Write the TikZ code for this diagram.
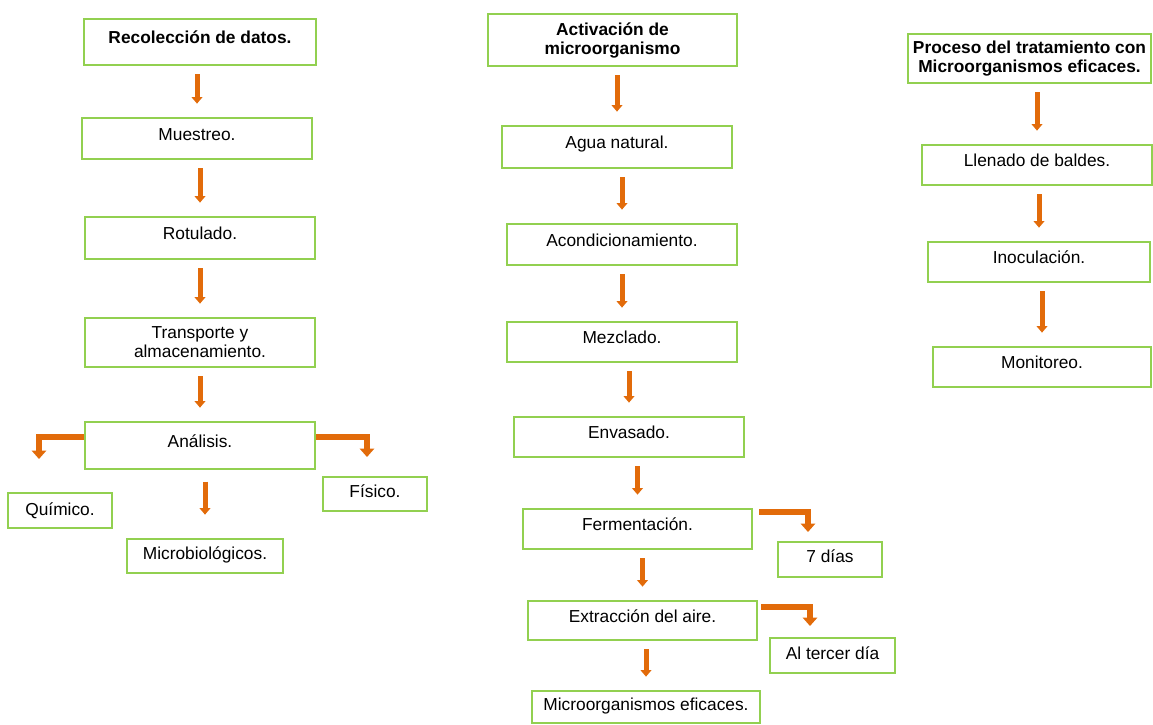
\documentclass[tikz,border=0pt]{standalone}
\usepackage{fontspec}
\setmainfont{Liberation Sans}
\usetikzlibrary{arrows.meta}
\definecolor{verde}{RGB}{146,208,80}
\definecolor{naranja}{RGB}{226,107,10}
\tikzset{
   caja/.style={draw=verde, line width=1.2pt, align=center, inner sep=2pt,
      font=\fontsize{10.4}{11.4}\selectfont},
   titulo/.style={font=\fontsize{10.4}{11.4}\selectfont\bfseries},
   sube/.style={text height=7.7pt, text depth=#1},
   wh/.style 2 args={minimum width=#1*0.6pt, minimum height=#2*0.6pt},
   flecha/.style={draw=naranja, line width=3pt, -{Triangle[width=6.5pt,length=4pt]},
      shorten <=5pt, shorten >=8pt},
   codo/.style={draw=naranja, line width=3.6pt, -{Triangle[width=8.5pt,length=5pt]}}
}
\begin{document}
\begin{tikzpicture}[x=0.6pt, y=-0.6pt]
      \useasboundingbox (0,0) rectangle (1153,724);
      % primera columna
      \node[caja, titulo, sube=5.5pt, wh={232}{46}] (rec) at (200,42) {Recolección de datos.};
      \node[caja, sube=5.5pt, wh={230}{41}] (mue) at (197,138.5) {Muestreo.};
      \node[caja, sube=5.5pt, wh={230}{42}] (rot) at (200,238) {Rotulado.};
      \node[caja, wh={230}{49}] (tra) at (200,342.5) {Transporte y\\almacenamiento.};
      \node[caja, sube=5.5pt, wh={230}{47}] (ana) at (200,445.5) {Análisis.};
      \node[caja, sube=2pt, wh={104}{35}] (qui) at (60,510.5) {Químico.};
      \node[caja, sube=3.5pt, wh={156}{34}] (mic) at (205,556) {Microbiológicos.};
      \node[caja, sube=3.5pt, wh={104}{34}] (fis) at (375,494) {Físico.};
      % segunda columna
      \node[caja, titulo, wh={249}{52}] (act) at (612.5,40) {Activación de\\microorganismo};
      \node[caja, sube=5.5pt, wh={230}{42}] (agu) at (617,147) {Agua natural.};
      \node[caja, sube=5.5pt, wh={230}{41}] (aco) at (622,244.5) {Acondicionamiento.};
      \node[caja, sube=5.5pt, wh={230}{40}] (mez) at (622,342) {Mezclado.};
      \node[caja, sube=5.5pt, wh={230}{40}] (env) at (629,437) {Envasado.};
      \node[caja, sube=5.5pt, wh={229}{40}] (fer) at (637.5,529) {Fermentación.};
      \node[caja, sube=4pt, wh={104}{35}] (sie) at (830,559.5) {7 días};
      \node[caja, sube=5.5pt, wh={229}{39}] (ext) at (642.5,620.5) {Extracción del aire.};
      \node[caja, sube=3pt, wh={125}{35}] (ter) at (832.5,655.5) {Al tercer día};
      \node[caja, sube=3pt, wh={228}{32}] (mef) at (646,707) {Microorganismos eficaces.};
      % tercera columna
      \node[caja, titulo, wh={243}{49}] (pro) at (1029.5,58.5) {Proceso del tratamiento con\\Microorganismos eficaces.};
      \node[caja, sube=5.5pt, wh={230}{40}] (lle) at (1037,165) {Llenado de baldes.};
      \node[caja, sube=5.5pt, wh={222}{40}] (ino) at (1039,262) {Inoculación.};
      \node[caja, sube=5.5pt, wh={218}{40}] (mon) at (1042,367) {Monitoreo.};
      \foreach \a/\b in {rec/mue, mue/rot, rot/tra, tra/ana, act/agu, agu/aco, aco/mez,
            mez/env, env/fer, fer/ext, ext/mef, pro/lle, lle/ino, ino/mon} {
         \draw[flecha] (\a.south -| \b.north) -- (\b.north);
      }
      \draw[flecha, shorten <=7pt, shorten >=14pt] (ana.south -| mic.north) -- (mic.north);
      \draw[codo] ([yshift=5.1pt]ana.west) -| ([xshift=-12.6pt,yshift=19.8pt]qui.north);
      \draw[codo] ([yshift=5.1pt]ana.east) -| ([xshift=-4.8pt,yshift=11.4pt]fis.north);
      \draw[codo] ([xshift=3.6pt,yshift=10.2pt]fer.east) -| ([xshift=-13.2pt,yshift=5.4pt]sie.north);
      \draw[codo] ([xshift=1.8pt,yshift=8.1pt]ext.east) -| ([xshift=-13.5pt,yshift=6.6pt]ter.north);
\end{tikzpicture}
\end{document}
